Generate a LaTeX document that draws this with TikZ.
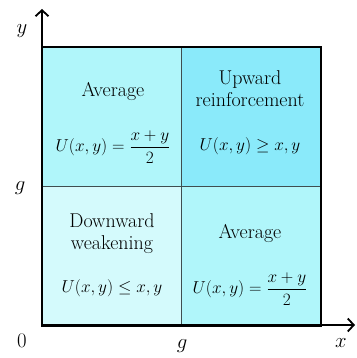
\documentclass[tikz,border=0pt]{standalone}
\usepackage{amsmath}
\usepackage{amssymb}
\usetikzlibrary{arrows.meta}
\definecolor{avgcyan}{HTML}{B0F6FA}
\definecolor{upcyan}{HTML}{8AEAFA}
\definecolor{downcyan}{HTML}{D4FAFC}
\definecolor{gridgray}{HTML}{3E4E50}
\newcommand{\formula}[1]{{\fontsize{17.5}{21}\selectfont$#1$}}
\begin{document}
\begin{tikzpicture}[x=1pt, y=-1pt,
  font=\fontsize{20}{22}\selectfont,
  cell/.style={draw=gridgray, line width=0.8pt, minimum width=139pt,
               minimum height=139pt, inner sep=0pt, anchor=north west},
  txt/.style={align=center, inner sep=0pt},
  lbl/.style={inner sep=0pt, font=\fontsize{21}{24}\selectfont},
  axis/.style={line width=1.8pt, -{Straight Barb[length=6pt,width=13pt,line width=1.8pt]}}
]
\useasboundingbox (0,0) rectangle (356,358);
% quadrants
\node[cell, fill=avgcyan] (tl) at (42,47) {};
\node[cell, fill=upcyan] (tr) at (181,47) {};
\node[cell, fill=downcyan] (bl) at (42,186) {};
\node[cell, fill=avgcyan] (br) at (181,186) {};
\draw[line width=1.4pt] (tl.north west) rectangle (br.south east);
% texts
\node[txt] (tltext) at (113,123) {Average\\[29pt]\formula{U(x,y)=\dfrac{x+y}{2}}};
\node[txt] (trtext) at (250,112.5) {Upward\\reinforcement\\[22pt]\formula{U(x,y)\geq x,y}};
\node[txt] (bltext) at (112,255) {Downward\\weakening\\[21pt]\formula{U(x,y)\leq x,y}};
\node[txt] (brtext) at (250,265) {Average\\[29pt]\formula{U(x,y)=\dfrac{x+y}{2}}};
% axes
\coordinate (O) at (42,325);
\coordinate (ytip) at (42,9);
\coordinate (xtip) at (355,325);
\draw[axis] (O) -- (ytip);
\draw[axis] (O) -- (xtip);
\node[lbl] (ylab) at (22,31) {$y$};
\node[lbl] (glab) at (20,188) {$g$};
\node[lbl] (olab) at (22,341) {$0$};
\node[lbl] (gxlab) at (182,346) {$g$};
\node[lbl] (xlab) at (341,343) {$x$};
\end{tikzpicture}
\end{document}
